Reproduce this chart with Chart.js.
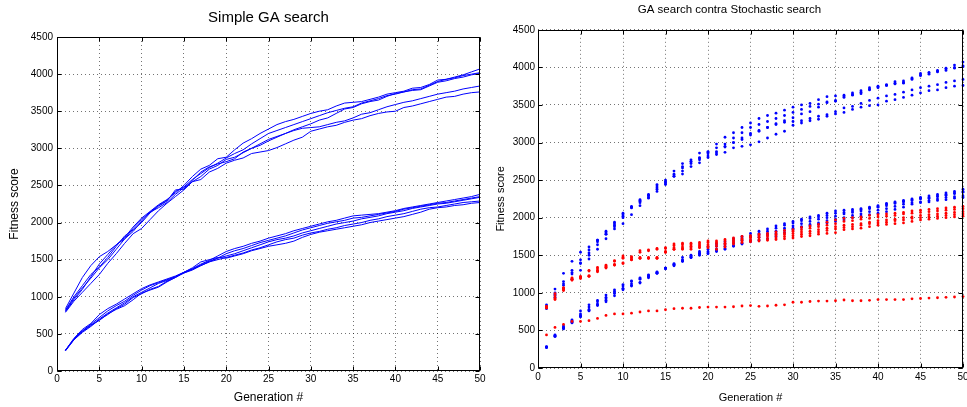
<!DOCTYPE html>
<html>
<head>
<meta charset="utf-8">
<title>GA search</title>
<script src="https://cdn.jsdelivr.net/npm/chart.js@4.4.1/dist/chart.umd.min.js"></script>
<style>
  body { margin: 0; background: #fff; width: 967px; height: 407px; overflow: hidden; position: relative; }
  canvas { position: absolute; top: 0; }
  #gaChart { left: 0; width: 490px; height: 407px; }
  #compareChart { left: 493px; width: 474px; height: 407px; }
</style>
</head>
<body>
<canvas id="gaChart" width="490" height="407"></canvas>
<canvas id="compareChart" width="474" height="407"></canvas>
<script>
// generations on the x axis
const generations = [1, 2, 3, 4, 5, 6, 7, 8, 9, 10, 11, 12, 13, 14, 15, 16, 17, 18, 19, 20,
  21, 22, 23, 24, 25, 26, 27, 28, 29, 30, 31, 32, 33, 34, 35, 36, 37, 38, 39, 40,
  41, 42, 43, 44, 45, 46, 47, 48, 49, 50];

const xTickValues = [0, 5, 10, 15, 20, 25, 30, 35, 40, 45, 50];
const yTickValues = [0, 500, 1000, 1500, 2000, 2500, 3000, 3500, 4000, 4500];

// GA runs, fast setting (upper bundle)
const gaHigh1 = [810, 980, 1120, 1250, 1390, 1500, 1640, 1780, 1920, 2040, 2140, 2230, 2300, 2420, 2480, 2580, 2660, 2740, 2800, 2870,
  2930, 2980, 3060, 3130, 3200, 3240, 3280, 3320, 3360, 3400, 3440, 3480, 3510, 3540, 3560, 3610, 3640, 3670, 3710, 3730,
  3760, 3790, 3800, 3850, 3900, 3930, 3960, 3990, 4030, 4070];
const gaHigh2 = [840, 1050, 1260, 1420, 1540, 1610, 1700, 1800, 1940, 2060, 2150, 2240, 2310, 2400, 2500, 2620, 2720, 2770, 2860, 2880,
  2980, 3070, 3130, 3200, 3260, 3320, 3360, 3390, 3430, 3470, 3500, 3520, 3570, 3610, 3620, 3630, 3660, 3690, 3730, 3750,
  3770, 3810, 3820, 3860, 3920, 3930, 3950, 3980, 4000, 4020];
const gaHigh3 = [820, 1000, 1150, 1300, 1400, 1530, 1680, 1820, 1900, 2000, 2130, 2220, 2290, 2440, 2450, 2570, 2680, 2750, 2790, 2820,
  2860, 2950, 3000, 3060, 3120, 3160, 3200, 3250, 3290, 3330, 3380, 3410, 3470, 3530, 3550, 3600, 3630, 3650, 3700, 3740,
  3760, 3780, 3790, 3840, 3890, 3910, 3940, 3960, 3990, 4010];
const gaHigh4 = [800, 960, 1100, 1270, 1440, 1570, 1700, 1780, 1880, 2020, 2140, 2200, 2270, 2380, 2470, 2550, 2620, 2720, 2770, 2850,
  2880, 2940, 3000, 3040, 3100, 3150, 3200, 3240, 3270, 3280, 3290, 3320, 3350, 3370, 3410, 3460, 3480, 3520, 3560, 3590,
  3620, 3640, 3670, 3700, 3730, 3750, 3770, 3800, 3820, 3840];
const gaHigh5 = [790, 940, 1060, 1180, 1300, 1450, 1580, 1720, 1850, 1920, 2040, 2160, 2260, 2350, 2440, 2550, 2580, 2680, 2730, 2800,
  2840, 2870, 2930, 2950, 2970, 3010, 3060, 3110, 3150, 3230, 3260, 3290, 3310, 3350, 3380, 3400, 3440, 3470, 3490, 3500,
  3550, 3570, 3600, 3630, 3660, 3690, 3700, 3730, 3750, 3760];

// GA runs, slow setting (lower bundle)
const gaLow1 = [280, 440, 560, 640, 760, 840, 900, 970, 1040, 1110, 1160, 1200, 1240, 1280, 1330, 1380, 1440, 1490, 1550, 1610,
  1650, 1680, 1720, 1750, 1790, 1820, 1850, 1890, 1920, 1950, 1980, 2010, 2030, 2060, 2090, 2100, 2110, 2120, 2140, 2160,
  2190, 2210, 2230, 2250, 2270, 2290, 2310, 2330, 2350, 2380];
const gaLow2 = [275, 430, 540, 630, 720, 810, 880, 940, 1020, 1090, 1150, 1190, 1230, 1270, 1320, 1370, 1420, 1470, 1520, 1580,
  1620, 1650, 1690, 1730, 1760, 1790, 1820, 1860, 1900, 1930, 1960, 1990, 2010, 2030, 2060, 2070, 2090, 2110, 2130, 2150,
  2180, 2200, 2220, 2240, 2260, 2270, 2290, 2310, 2330, 2350];
const gaLow3 = [280, 420, 530, 610, 700, 780, 850, 920, 1000, 1060, 1120, 1180, 1220, 1270, 1330, 1370, 1430, 1480, 1520, 1550,
  1580, 1620, 1660, 1700, 1740, 1770, 1790, 1820, 1860, 1890, 1920, 1950, 1980, 2000, 2020, 2050, 2070, 2090, 2120, 2140,
  2160, 2190, 2210, 2230, 2250, 2260, 2280, 2300, 2320, 2340];
const gaLow4 = [270, 420, 520, 600, 690, 760, 840, 900, 990, 1040, 1100, 1140, 1210, 1260, 1320, 1360, 1420, 1470, 1500, 1530,
  1560, 1590, 1630, 1660, 1700, 1740, 1770, 1790, 1830, 1860, 1880, 1910, 1930, 1960, 1980, 2000, 2030, 2050, 2080, 2100,
  2120, 2150, 2180, 2200, 2210, 2230, 2250, 2270, 2280, 2290];
const gaLow5 = [280, 430, 540, 620, 680, 770, 830, 880, 960, 1050, 1090, 1130, 1200, 1260, 1330, 1390, 1470, 1500, 1530, 1520,
  1550, 1580, 1620, 1650, 1680, 1700, 1720, 1750, 1800, 1840, 1870, 1890, 1910, 1930, 1950, 1970, 2000, 2020, 2040, 2060,
  2080, 2110, 2140, 2180, 2200, 2210, 2230, 2240, 2260, 2270];

// stochastic search runs
const stochHigh1 = [820, 990, 1070, 1200, 1220, 1300, 1340, 1370, 1430, 1490, 1480, 1560, 1570, 1590, 1600, 1650, 1660, 1660, 1670, 1690,
  1690, 1710, 1730, 1750, 1760, 1780, 1790, 1810, 1830, 1840, 1870, 1890, 1910, 1940, 1970, 1990, 2000, 2010, 2030, 2040,
  2050, 2060, 2070, 2090, 2100, 2110, 2120, 2130, 2140, 2150];
const stochHigh2 = [815, 960, 1060, 1190, 1210, 1290, 1320, 1360, 1420, 1470, 1470, 1540, 1560, 1580, 1590, 1630, 1640, 1640, 1650, 1670,
  1670, 1690, 1710, 1720, 1740, 1760, 1770, 1780, 1800, 1820, 1840, 1860, 1880, 1900, 1920, 1950, 1960, 1980, 1990, 2010,
  2020, 2030, 2050, 2060, 2070, 2080, 2090, 2100, 2110, 2120];
const stochHigh3 = [810, 930, 1050, 1180, 1210, 1230, 1300, 1350, 1380, 1460, 1450, 1470, 1470, 1460, 1550, 1600, 1610, 1620, 1630, 1640,
  1650, 1660, 1690, 1710, 1730, 1740, 1750, 1760, 1780, 1790, 1810, 1820, 1840, 1860, 1880, 1900, 1910, 1920, 1940, 1960,
  1970, 1980, 2000, 2010, 2030, 2040, 2050, 2060, 2070, 2080];
const stochHigh4 = [800, 920, 1040, 1170, 1200, 1220, 1290, 1340, 1370, 1400, 1440, 1460, 1460, 1470, 1540, 1580, 1590, 1600, 1610, 1620,
  1620, 1640, 1670, 1690, 1700, 1710, 1720, 1730, 1750, 1760, 1780, 1790, 1810, 1830, 1850, 1870, 1880, 1900, 1920, 1930,
  1940, 1960, 1970, 1990, 2000, 2010, 2020, 2030, 2040, 2050];
const stochHigh5 = [800, 910, 1030, 1170, 1190, 1220, 1280, 1330, 1370, 1390, 1440, 1460, 1460, 1460, 1540, 1580, 1580, 1580, 1600, 1600,
  1580, 1610, 1650, 1670, 1680, 1690, 1700, 1710, 1720, 1730, 1750, 1760, 1780, 1790, 1800, 1840, 1850, 1860, 1880, 1900,
  1910, 1920, 1930, 1950, 1970, 1980, 1990, 2000, 2010, 2020];
const stochLow = [440, 540, 580, 620, 620, 630, 660, 700, 720, 720, 730, 745, 760, 760, 775, 790, 795, 795, 805, 810,
  810, 810, 815, 825, 830, 820, 825, 835, 840, 875, 875, 885, 890, 890, 895, 905, 895, 895, 900, 910,
  910, 910, 910, 920, 925, 930, 935, 940, 945, 950];

const gaRuns = [gaHigh1, gaHigh2, gaHigh3, gaHigh4, gaHigh5, gaLow1, gaLow2, gaLow3, gaLow4, gaLow5];
const stochRuns = [stochHigh1, stochHigh2, stochHigh3, stochHigh4, stochHigh5, stochLow];

const BLUE = "#0000ff";
const RED = "#ff0000";
const GRID = "rgba(0,0,0,0.55)";

Chart.defaults.font.family = "'Liberation Sans', Arial, sans-serif";
Chart.defaults.color = "#000";

function toPoints(values) {
  return values.map((v, i) => ({ x: generations[i], y: v }));
}

// full box around the plot with short inward ticks
const boxFrame = {
  id: "boxFrame",
  afterDraw(chart) {
    const ctx = chart.ctx;
    const a = chart.chartArea;
    const xs = chart.scales.x;
    const ys = chart.scales.y;
    const l = Math.round(a.left) + 0.5;
    const r = Math.round(a.right) - 0.5;
    const t = Math.round(a.top) + 0.5;
    const b = Math.round(a.bottom) - 0.5;
    ctx.save();
    ctx.strokeStyle = "#000";
    ctx.lineWidth = 1;
    ctx.strokeRect(l, t, r - l, b - t);
    ctx.beginPath();
    xTickValues.forEach(v => {
      const px = Math.round(xs.getPixelForValue(v)) + 0.5;
      ctx.moveTo(px, b); ctx.lineTo(px, b - 4);
      ctx.moveTo(px, t); ctx.lineTo(px, t + 4);
    });
    yTickValues.forEach(v => {
      const py = Math.round(ys.getPixelForValue(v)) + 0.5;
      ctx.moveTo(l, py); ctx.lineTo(l + 4, py);
      ctx.moveTo(r, py); ctx.lineTo(r - 4, py);
    });
    ctx.stroke();
    ctx.restore();
  }
};

function makeScales(o) {
  return {
    x: {
      type: "linear",
      min: 0,
      max: 50,
      afterBuildTicks: s => { s.ticks = xTickValues.map(v => ({ value: v })); },
      afterFit: s => { s.height = o.xHeight; s.paddingLeft = 0; s.paddingRight = 0; },
      grid: { color: GRID, lineWidth: 1, drawTicks: false },
      border: { display: false, dash: [1, 3] },
      ticks: { autoSkip: false, maxRotation: 0, padding: o.xTickPad, font: { size: 10 }, callback: v => String(v) },
      title: { display: true, text: "Generation #", font: { size: o.titleSize }, padding: { top: 0, bottom: o.xTitlePad } }
    },
    y: {
      type: "linear",
      min: 0,
      max: 4500,
      afterBuildTicks: s => { s.ticks = yTickValues.map(v => ({ value: v })); },
      afterFit: s => { s.width = o.yWidth; },
      grid: { color: GRID, lineWidth: 1, drawTicks: false },
      border: { display: false, dash: [1, 3] },
      ticks: { padding: o.yTickPad, font: { size: 10 }, callback: v => String(v) },
      title: { display: true, text: "Fitness score", font: { size: o.titleSize }, padding: { top: o.yTitlePad, bottom: 0 } }
    }
  };
}

// left: GA runs as lines
new Chart(document.getElementById("gaChart"), {
  type: "line",
  data: {
    datasets: gaRuns.map(run => ({
      data: toPoints(run),
      borderColor: BLUE,
      borderWidth: 1,
      pointRadius: 0,
      tension: 0,
      fill: false
    }))
  },
  options: {
    responsive: false,
    animation: false,
    devicePixelRatio: 1,
    layout: { padding: { left: 0, right: 10, top: 0, bottom: 0 } },
    plugins: {
      legend: { display: false },
      tooltip: { enabled: false },
      title: {
        display: true,
        text: "Simple GA search",
        fullSize: false,
        font: { size: 15, weight: "normal" },
        padding: { top: 9, bottom: 10 }
      }
    },
    scales: makeScales({ xHeight: 36, yWidth: 57, xTickPad: 2, yTickPad: 4, titleSize: 12, xTitlePad: 2, yTitlePad: 7 })
  },
  plugins: [boxFrame]
});

// right: same GA runs against stochastic search, as dots
const dotSets = stochRuns.map(run => ({ data: toPoints(run), color: RED }))
  .concat(gaRuns.map(run => ({ data: toPoints(run), color: BLUE })));

new Chart(document.getElementById("compareChart"), {
  type: "scatter",
  data: {
    datasets: dotSets.map(d => ({
      data: d.data,
      backgroundColor: d.color,
      borderWidth: 0,
      pointRadius: 1.4,
      clip: false
    }))
  },
  options: {
    responsive: false,
    animation: false,
    devicePixelRatio: 1,
    layout: { padding: { left: 0, right: 1, top: 0, bottom: 0 } },
    plugins: {
      legend: { display: false },
      tooltip: { enabled: false },
      title: {
        display: true,
        text: "GA search contra Stochastic search",
        font: { size: 11.5, weight: "normal" },
        padding: { top: 3, bottom: 13 }
      }
    },
    scales: makeScales({ xHeight: 39, yWidth: 45, xTickPad: 3, yTickPad: 3, titleSize: 11, xTitlePad: 2, yTitlePad: 1 })
  },
  plugins: [boxFrame]
});
</script>
</body>
</html>
